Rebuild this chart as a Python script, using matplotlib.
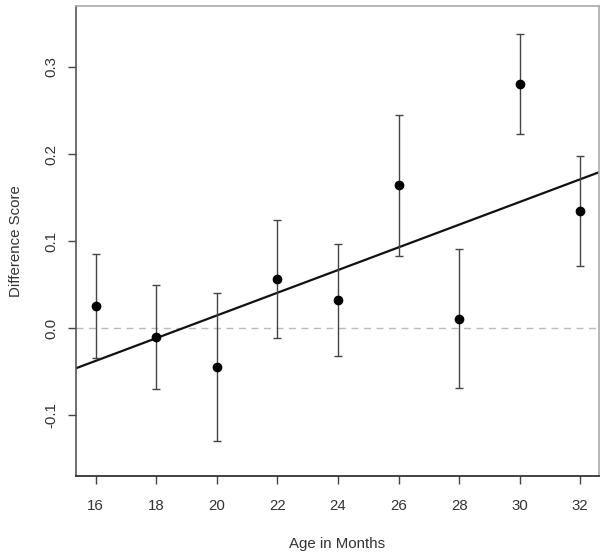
import matplotlib.pyplot as plt
import numpy as np

plt.rcParams['font.family'] = ['Liberation Sans', 'DejaVu Sans']

age = [16, 18, 20, 22, 24, 26, 28, 30, 32]
score = [0.0256, -0.0100, -0.0444, 0.0570, 0.0325, 0.1645, 0.0107, 0.2808, 0.1343]
upper = [0.0853, 0.0494, 0.0409, 0.1247, 0.0971, 0.2452, 0.0907, 0.3382, 0.1975]
lower = [-0.0337, -0.0693, -0.1290, -0.0115, -0.0318, 0.0830, -0.0689, 0.2234, 0.0719]
fit_intercept = -0.2459   # value at age 0
fit_slope = 0.01303

fig = plt.figure(figsize=(6.07, 5.56), dpi=100)
ax = fig.add_axes([76 / 607, 1 - 476 / 556, (599 - 76) / 607, (476 - 6) / 556])

xlim = (15.35, 32.62)
ylim = (-0.1696, 0.370)

ax.axhline(0, color='#bbbbbb', lw=1, ls=(0, (5, 4)), zorder=1)

xs = np.array(xlim)
ax.plot(xs, fit_intercept + fit_slope * xs, color='#111111', lw=1.6, zorder=2)

s = np.array(score)
yerr = [s - np.array(lower), np.array(upper) - s]
ax.errorbar(age, score, yerr=yerr, fmt='none', ecolor='#444444',
            elinewidth=1, capsize=3, capthick=1, zorder=3)
ax.plot(age, score, 'o', color='black', ms=6, zorder=4)

ax.set_xlim(*xlim)
ax.set_ylim(*ylim)
ax.set_xticks(age)
ax.set_yticks([-0.1, 0.0, 0.1, 0.2, 0.3])
ax.set_yticklabels(['-0.1', '0.0', '0.1', '0.2', '0.3'], rotation=90, va='center')
ax.tick_params(axis='both', direction='out', length=6, width=1, colors='#444444',
               labelcolor='#333333', labelsize=10.8)
ax.tick_params(axis='x', pad=10.5)
ax.tick_params(axis='y', pad=7)

ax.spines['bottom'].set_color('#222222')
ax.spines['left'].set_color('#555555')
ax.spines['top'].set_color('#aaaaaa')
ax.spines['right'].set_color('#aaaaaa')
for sp in ax.spines.values():
    sp.set_linewidth(1.2)

ax.set_xlabel('Age in Months', fontsize=10.8, color='#333333', labelpad=17)
ax.set_ylabel('Difference Score', fontsize=10.8, color='#333333', labelpad=15)

fig.savefig('out.png', dpi=100)
